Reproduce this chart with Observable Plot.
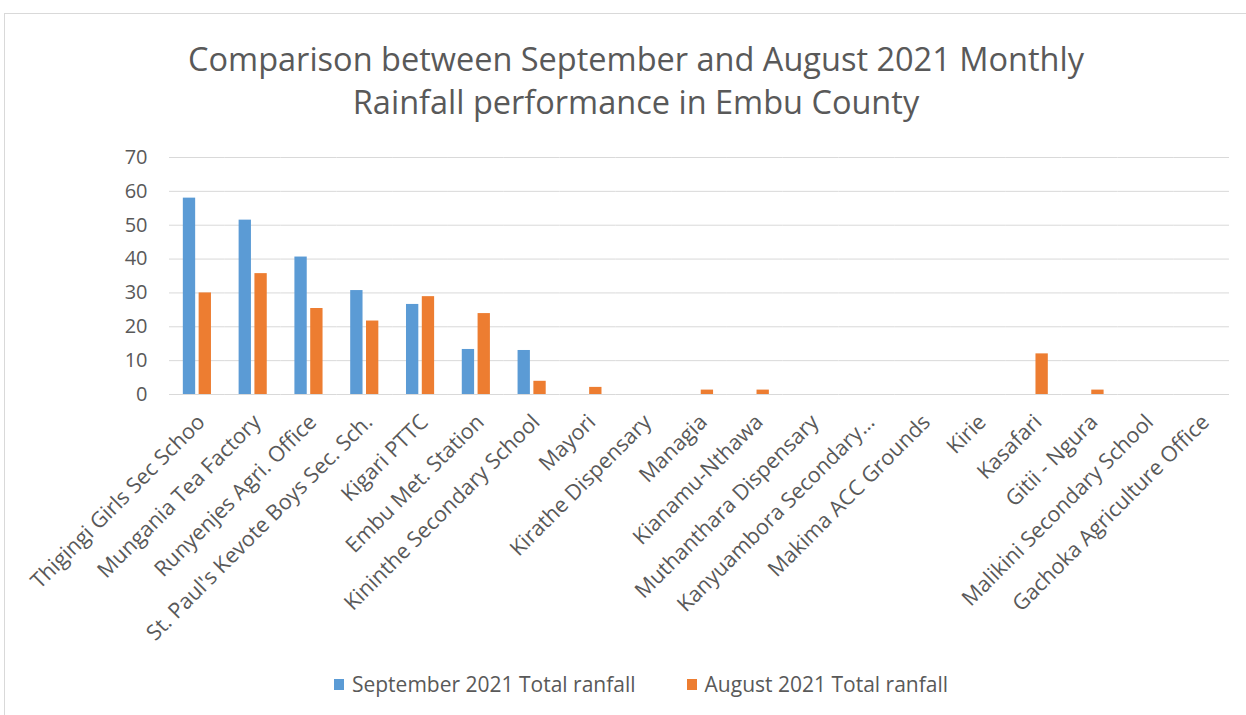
<!DOCTYPE html>
<html><head><meta charset="utf-8">
<script src="https://cdn.jsdelivr.net/npm/d3@7"></script>
<script src="https://cdn.jsdelivr.net/npm/@observablehq/plot@0.6"></script>
<style>
body{margin:0;width:1246px;height:715px;overflow:hidden;background:#fff;font-family:"Open Sans",sans-serif;color:#595959;position:relative}
#frame{position:absolute;left:4px;top:13px;width:1260px;height:720px;border:1px solid #d9d9d9;box-sizing:border-box}
#title{position:absolute;left:0;top:37px;width:1272px;text-align:center;font-size:32.5px;line-height:43px;white-space:nowrap}
#chart{position:absolute;left:0;top:140px}
#legend{position:absolute;left:0;top:670px;width:1282px;display:flex;justify-content:center;gap:51px;font-size:21px;line-height:28px}
.item{display:flex;align-items:center;gap:8px}
.sw{width:10px;height:11px;display:inline-block}
</style></head>
<body>
<div id="frame"></div>
<div id="title">Comparison between September and August 2021 Monthly<br>Rainfall performance in Embu County</div>
<div id="chart"></div>
<div id="legend"></div>
<script>
const stations = ["Thigingi Girls Sec Schoo","Mungania Tea Factory","Runyenjes Agri. Office","St. Paul's Kevote Boys Sec. Sch.","Kigari PTTC","Embu Met. Station","Kininthe Secondary School","Mayori","Kirathe Dispensary","Managia","Kianamu-Nthawa","Muthanthara Dispensary","Kanyuambora Secondary…","Makima ACC Grounds","Kirie","Kasafari","Gitii - Ngura","Malikini Secondary School","Gachoka Agriculture Office"];
const september = [58.0,51.5,40.6,30.7,26.6,13.3,13.0,0,0,0,0,0,0,0,0,0,0,0,0];
const august = [30.0,35.7,25.4,21.7,28.9,23.9,3.9,2.1,0,1.3,1.3,0,0,0,0,12.0,1.3,0,0];
const seriesNames = ["September 2021 Total ranfall","August 2021 Total ranfall"];
const colors = ["#5B9BD5","#ED7D31"];
const yTicks = [0,10,20,30,40,50,60,70];

const data = stations.flatMap((s,i)=>[
  {station:s, series:seriesNames[0], value:september[i]},
  {station:s, series:seriesNames[1], value:august[i]}
]);

const chart = Plot.plot({
  width:1246, height:494,
  marginTop:17, marginBottom:240, marginLeft:169, marginRight:17,
  style:{fontFamily:"Open Sans", fontSize:"18px", color:"#595959", background:"transparent", overflow:"visible"},
  fx:{domain:stations, padding:0, round:false, label:null},
  x:{domain:seriesNames, axis:null, round:false, paddingInner:0.22, paddingOuter:0.875},
  y:{domain:[0,70], label:null},
  color:{domain:seriesNames, range:colors},
  marks:[
    Plot.gridY(yTicks, {stroke:"#d9d9d9", strokeOpacity:1, strokeWidth:1}),
    Plot.barY(data,{fx:"station", x:"series", y:"value", fill:"series"}),
    Plot.axisY(yTicks, {tickSize:0, tickPadding:22, fontSize:20, fill:"#595959", label:null}),
    Plot.axisFx({anchor:"bottom", tickRotate:-45, tickSize:0, tickPadding:24, dx:4, fontSize:21.5, fill:"#595959", label:null})
  ]
});
document.getElementById("chart").appendChild(chart);

const legend = document.getElementById("legend");
seriesNames.forEach((n,i)=>{
  const it = document.createElement("div"); it.className="item";
  const sw = document.createElement("span"); sw.className="sw"; sw.style.background=colors[i];
  const tx = document.createElement("span"); tx.textContent=n;
  it.appendChild(sw); it.appendChild(tx); legend.appendChild(it);
});
</script>
</body></html>
